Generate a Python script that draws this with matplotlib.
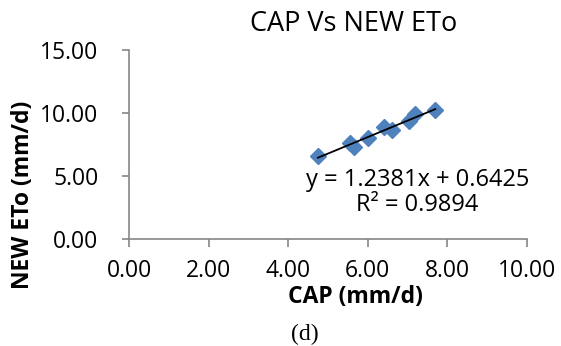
import matplotlib
matplotlib.use("Agg")
import matplotlib.pyplot as plt
import numpy as np

# values
cap = [4.75, 5.55, 5.65, 6.00, 6.40, 6.60, 7.05, 7.20, 7.70]
new_eto = [6.60, 7.60, 7.30, 8.00, 8.90, 8.70, 9.40, 9.90, 10.25]
x_ticks = [0, 2, 4, 6, 8, 10]
y_ticks = [0, 5, 10, 15]
equation = "y = 1.2381x + 0.6425"
r_squared = "R² = 0.9894"

plt.rcParams["font.family"] = ["Open Sans", "DejaVu Sans"]
axis_grey = "#868686"
blue = "#4F81BD"

fig = plt.figure(figsize=(5.61, 3.46), dpi=100)
ax = fig.add_axes([0.23, 0.309, 0.709, 0.546])

ax.plot(cap, new_eto, linestyle="none", marker="D", markersize=8.5,
        color=blue, markeredgecolor=blue)

# linear trendline over the data range
slope, intercept = np.polyfit(cap, new_eto, 1)
xs = np.array([min(cap), max(cap)])
ax.plot(xs, slope * xs + intercept, color="black", linewidth=1.3)

ax.set_xlim(0, 10)
ax.set_ylim(0, 15)
ax.set_xticks(x_ticks)
ax.set_yticks(y_ticks)
ax.set_xticklabels([f"{v:.2f}" for v in x_ticks])
ax.set_yticklabels([f"{v:.2f}" for v in y_ticks])

for side in ["top", "right"]:
    ax.spines[side].set_visible(False)
for side in ["left", "bottom"]:
    ax.spines[side].set_color(axis_grey)
    ax.spines[side].set_linewidth(1.2)

ax.tick_params(axis="x", direction="out", length=6, width=1.2, color=axis_grey,
               labelsize=16.5, pad=8)
ax.tick_params(axis="y", direction="out", length=5, width=1.2, color=axis_grey,
               labelsize=16.5, pad=17)

ax.text(0.725, 0.312, equation, transform=ax.transAxes, ha="center", va="center",
        fontsize=17)
ax.text(0.725, 0.178, r_squared, transform=ax.transAxes, ha="center", va="center",
        fontsize=17)

fig.text(0.63, 0.93, "CAP Vs NEW ETo", ha="center", va="center", fontsize=19.5)
fig.text(0.633, 0.143, "CAP (mm/d)", ha="center", va="center", fontsize=16.5,
         fontweight="bold")
fig.text(0.041, 0.436, "NEW ETo (mm/d)", ha="center", va="center", fontsize=16.5,
         fontweight="bold", rotation=90)
fig.text(0.544, 0.032, "(d)", ha="center", va="center", fontsize=17,
         family="Liberation Serif")

fig.savefig("out.png", dpi=100)
